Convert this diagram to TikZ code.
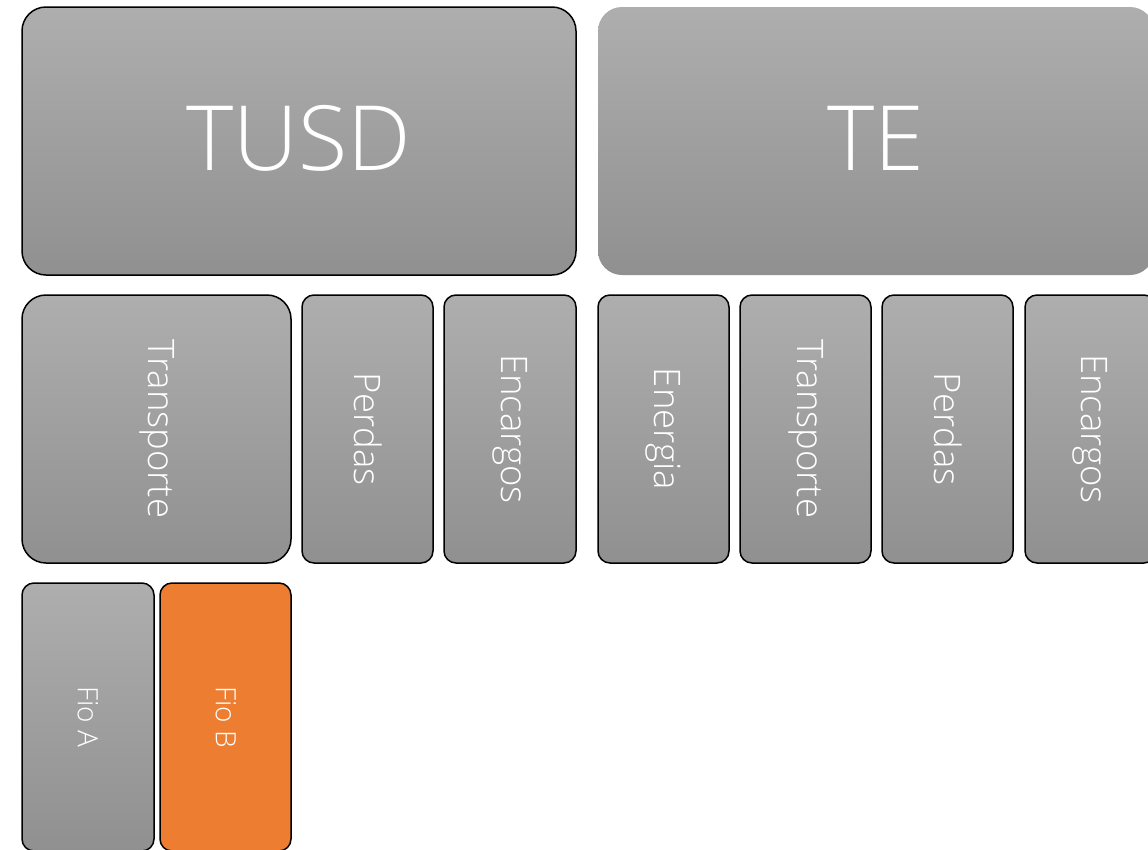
\documentclass[tikz,border=0pt]{standalone}
\usepackage{fontspec}
\setmainfont{Open Sans}[UprightFont=* Light]
\definecolor{gtop}{HTML}{AEAEAE}
\definecolor{gbot}{HTML}{909090}
\definecolor{orng}{HTML}{ED7D31}
\tikzset{
  gbox/.style={draw=black, line width=1.5pt, top color=gtop, bottom color=gbot},
  nobox/.style={top color=gtop, bottom color=gbot},
  obox/.style={draw=black, line width=1.5pt, fill=orng},
  big/.style={rounded corners=24pt},
  small/.style={rounded corners=12pt},
  vtxt/.style={text=white, rotate=-90, font=\fontsize{36.5}{38}\selectfont},
  ftxt/.style={text=white, rotate=-90, font=\fontsize{28}{30}\selectfont},
  btxt/.style={text=white, font=\fontsize{90}{92}\selectfont},
}
\begin{document}
\begin{tikzpicture}[x=1pt,y=-1pt]
\useasboundingbox (0,0) rectangle (1148,849);
\clip (0,0) rectangle (1148,849);
% row 1
\path[gbox,big] (22,7) rectangle (576,275);
\node[btxt] (tusd) at (299,138) {TUSD};
\path[nobox,big] (598,7) rectangle (1154,275);
\node[btxt] (te) at (876,138) {TE};
% row 2
\path[gbox,big] (22,295) rectangle (291,563);
\node[vtxt] (t1) at (157,429) {Transporte};
\path[gbox,small] (302,295) rectangle (433,563);
\node[vtxt] (p1) at (368,429) {Perdas};
\path[gbox,small] (444,295) rectangle (576,563);
\node[vtxt] (e1) at (510,429) {Encargos};
\path[gbox,small] (598,295) rectangle (729,563);
\node[vtxt] (en) at (663,429) {Energia};
\path[gbox,small] (740,295) rectangle (871,563);
\node[vtxt] (t2) at (806,429) {Transporte};
\path[gbox,small] (882,295) rectangle (1013,563);
\node[vtxt] (p2) at (948,429) {Perdas};
\path[gbox,small] (1025,295) rectangle (1156,563);
\node[vtxt] (e2) at (1090,429) {Encargos};
% row 3
\path[gbox,small] (22,583) rectangle (154,851);
\node[ftxt] (fa) at (88,717) {Fio A};
\path[obox,small] (160,583) rectangle (291,851);
\node[ftxt] (fb) at (226,717) {Fio B};
\end{tikzpicture}
\end{document}
